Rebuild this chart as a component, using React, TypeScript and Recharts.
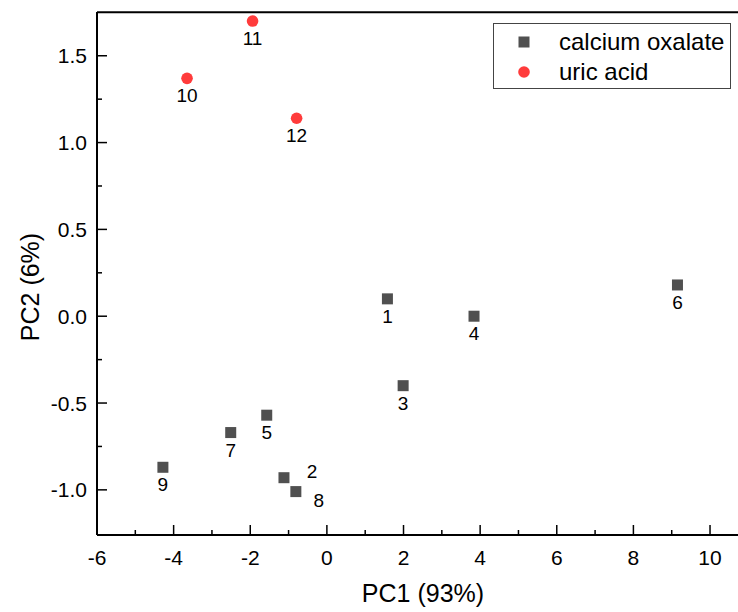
import { ScatterChart, Scatter, XAxis, YAxis, Legend, ReferenceLine, Label } from 'recharts';

// PCA scores
const oxalateIds = ['1', '2', '3', '4', '5', '6', '7', '8', '9'];
const oxalatePC1 = [1.58, -1.12, 1.99, 3.84, -1.57, 9.15, -2.51, -0.81, -4.28];
const oxalatePC2 = [0.1, -0.93, -0.4, 0.0, -0.57, 0.18, -0.67, -1.01, -0.87];

const uricIds = ['10', '11', '12'];
const uricPC1 = [-3.65, -1.94, -0.79];
const uricPC2 = [1.37, 1.7, 1.14];

const xTicks = [-6, -5, -4, -3, -2, -1, 0, 1, 2, 3, 4, 5, 6, 7, 8, 9, 10];
const yTicks = [-1, -0.75, -0.5, -0.25, 0, 0.25, 0.5, 0.75, 1, 1.25, 1.5];
const xDomain: [number, number] = [-6, 10.73];
const yDomain: [number, number] = [-1.26, 1.752];

const FONT = '"Liberation Sans", Arial, sans-serif';
const OXALATE = '#505050';
const URIC = '#ff3b3b';

// point labels sit below the marker except where they would collide
const labelOffset: Record<string, [number, number]> = {
  '2': [28, 0],
  '8': [23, 15],
};

const oxalateData = oxalateIds.map((id, i) => ({ id, pc1: oxalatePC1[i], pc2: oxalatePC2[i] }));
const uricData = uricIds.map((id, i) => ({ id, pc1: uricPC1[i], pc2: uricPC2[i] }));

const makeShape = (kind: 'square' | 'circle') => (props: any) => {
  const { cx, cy, payload } = props;
  const off = labelOffset[payload.id] ?? [0, 24];
  return (
    <g>
      {kind === 'square' ? (
        <rect x={cx - 5.5} y={cy - 5.5} width={11} height={11} fill={OXALATE} />
      ) : (
        <circle cx={cx} cy={cy} r={5.8} fill={URIC} />
      )}
      <text x={cx + off[0]} y={cy + off[1]} textAnchor="middle" fontSize={19} fontFamily={FONT} fill="#000">
        {payload.id}
      </text>
    </g>
  );
};

const XTick = (props: any) => {
  const { x, y, payload } = props;
  const major = payload.value % 2 === 0;
  return (
    <g>
      <line x1={x} x2={x} y1={y} y2={y - (major ? 10 : 5)} stroke="#000" strokeWidth={1.5} />
      {major && (
        <text x={x} y={y + 30} textAnchor="middle" fontSize={21} fontFamily={FONT} fill="#000">
          {payload.value}
        </text>
      )}
    </g>
  );
};

const YTick = (props: any) => {
  const { x, y, payload } = props;
  const v = payload.value as number;
  const major = Math.abs(v * 2 - Math.round(v * 2)) < 1e-6;
  return (
    <g>
      <line x1={x} x2={x + (major ? 10 : 5)} y1={y} y2={y} stroke="#000" strokeWidth={1.5} />
      {major && (
        <text x={x - 10} y={y + 7.5} textAnchor="end" fontSize={21} fontFamily={FONT} fill="#000">
          {v.toFixed(1)}
        </text>
      )}
    </g>
  );
};

const LegendBox = () => (
  <div
    style={{
      position: 'relative',
      boxSizing: 'border-box',
      width: 238,
      height: 66,
      border: '1px solid #444',
      background: '#fff',
      fontFamily: FONT,
      fontSize: 24,
      color: '#000',
    }}
  >
    <svg width={20} height={20} style={{ position: 'absolute', left: 20, top: 8 }}>
      <rect x={4.5} y={4.5} width={11} height={11} fill={OXALATE} />
    </svg>
    <div style={{ position: 'absolute', left: 65, top: 3, lineHeight: '30px', whiteSpace: 'nowrap' }}>calcium oxalate</div>
    <svg width={20} height={20} style={{ position: 'absolute', left: 20, top: 38 }}>
      <circle cx={10} cy={10} r={5.8} fill={URIC} />
    </svg>
    <div style={{ position: 'absolute', left: 65, top: 33, lineHeight: '30px', whiteSpace: 'nowrap' }}>uric acid</div>
  </div>
);

export default function App() {
  return (
    <div style={{ position: 'absolute', left: 0, top: 0, width: 738, height: 612, background: '#fff' }}>
      <ScatterChart width={738} height={612} margin={{ top: 12, right: 0, bottom: 0, left: 0 }}>
        <XAxis
          type="number"
          dataKey="pc1"
          domain={xDomain}
          ticks={xTicks}
          interval={0}
          allowDataOverflow
          height={77}
          tickSize={0}
          tickMargin={0}
          tickLine={false}
          tick={<XTick />}
          axisLine={{ stroke: '#000', strokeWidth: 2 }}
        >
          <Label
            content={() => (
              <text x={423} y={602} textAnchor="middle" fontSize={25} fontFamily={FONT} fill="#000">
                PC1 (93%)
              </text>
            )}
          />
        </XAxis>
        <YAxis
          type="number"
          dataKey="pc2"
          domain={yDomain}
          ticks={yTicks}
          interval={0}
          allowDataOverflow
          width={97}
          tickSize={0}
          tickMargin={0}
          tickLine={false}
          tick={<YTick />}
          axisLine={{ stroke: '#000', strokeWidth: 2 }}
        >
          <Label
            content={() => (
              <text
                x={39}
                y={287}
                textAnchor="middle"
                fontSize={25}
                fontFamily={FONT}
                fill="#000"
                transform="rotate(-90 39 287)"
              >
                PC2 (6%)
              </text>
            )}
          />
        </YAxis>
        <ReferenceLine y={1.75} stroke="#000" strokeWidth={2} />
        <Legend
          layout="vertical"
          align="center"
          verticalAlign="middle"
          wrapperStyle={{ position: 'absolute', left: 493, top: 23, width: 238, height: 66 }}
          content={() => <LegendBox />}
        />
        <Scatter name="calcium oxalate" data={oxalateData} shape={makeShape('square')} isAnimationActive={false} />
        <Scatter name="uric acid" data={uricData} shape={makeShape('circle')} isAnimationActive={false} />
      </ScatterChart>
    </div>
  );
}
